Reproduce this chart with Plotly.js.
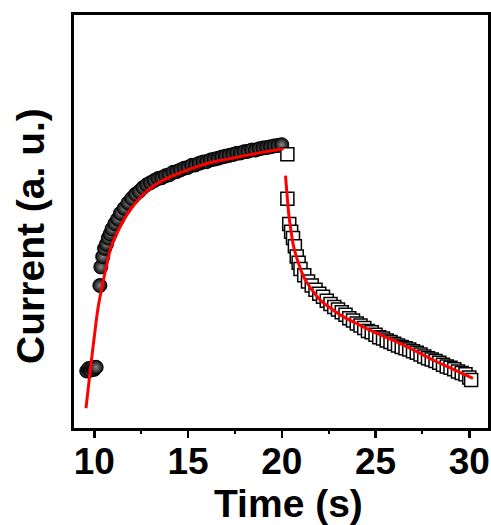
<!DOCTYPE html>
<html>
<head>
<meta charset="utf-8">
<script src="https://cdn.plot.ly/plotly-3.0.1.min.js"></script>
<style>html,body{margin:0;padding:0;background:#fff;}#chart{width:491px;height:525px;}</style>
</head>
<body>
<div id="chart"></div>
<script>
// Rise (light on) measured points
var riseTime = [9.6, 9.7, 9.8, 9.9, 10.0, 10.1, 10.3, 10.35, 10.45, 10.55, 10.65, 10.75, 10.85, 10.95, 11.1, 11.25, 11.4, 11.6, 11.8, 12.0, 12.2, 12.4, 12.6, 12.8, 13.0, 13.2, 13.4, 13.6, 13.8, 14.0, 14.2, 14.4, 14.6, 14.8, 15.0, 15.2, 15.4, 15.6, 15.8, 16.0, 16.2, 16.4, 16.6, 16.8, 17.0, 17.2, 17.4, 17.6, 17.8, 18.0, 18.2, 18.4, 18.6, 18.8, 19.0, 19.2, 19.4, 19.6, 19.8, 20.0];
var riseCurrent = [13.8, 14.4, 14.0, 14.6, 14.2, 14.7, 34.5, 39.0, 41.5, 43.5, 44.5, 46.0, 47.0, 48.2, 49.5, 50.6, 52.0, 53.2, 54.5, 55.6, 56.6, 57.3, 58.2, 58.9, 59.4, 59.9, 60.4, 60.6, 61.1, 61.3, 61.9, 62.1, 62.5, 62.9, 63.1, 63.6, 63.7, 64.1, 64.4, 64.5, 64.9, 65.1, 65.3, 65.6, 65.8, 66.0, 66.2, 66.5, 66.6, 66.9, 67.0, 67.3, 67.3, 67.6, 67.8, 67.9, 68.1, 68.3, 68.4, 68.6];
// Decay (light off) measured points
var decayTime = [20.3, 20.3, 20.4, 20.5, 20.6, 20.7, 20.8, 20.9, 21.0, 21.2, 21.4, 21.6, 21.8, 22.0, 22.2, 22.4, 22.6, 22.8, 23.0, 23.2, 23.4, 23.6, 23.8, 24.0, 24.2, 24.4, 24.6, 24.8, 25.0, 25.2, 25.4, 25.6, 25.8, 26.0, 26.2, 26.4, 26.6, 26.8, 27.0, 27.2, 27.4, 27.6, 27.8, 28.0, 28.2, 28.4, 28.6, 28.8, 29.0, 29.2, 29.4, 29.6, 29.8, 30.0, 30.1];
var decayCurrent = [66.3, 55.5, 49.4, 47.5, 46.0, 44.0, 41.5, 40.0, 38.5, 37.0, 35.5, 34.5, 33.5, 32.5, 31.8, 30.8, 30.0, 29.3, 28.7, 28.0, 27.4, 26.6, 26.0, 25.3, 24.8, 24.2, 23.5, 23.2, 22.6, 22.0, 21.7, 21.2, 20.8, 20.4, 20.0, 19.6, 19.3, 19.0, 18.6, 18.2, 17.8, 17.3, 16.9, 16.6, 16.2, 15.8, 15.3, 14.9, 14.6, 14.2, 13.7, 13.3, 13.0, 12.2, 11.6];
// Fitted curves
var riseFitTime = [9.56, 9.8, 10.0, 10.2, 10.45, 10.7, 10.9, 11.3, 11.78, 12.3, 12.84, 13.5, 14.4, 15.3, 16.2, 17.1, 17.98, 19.0, 20.1];
var riseFitCurrent = [4.8, 14.5, 22.0, 29.0, 35.0, 40.2, 43.8, 48.0, 51.9, 55.0, 57.5, 59.6, 61.5, 63.0, 64.3, 65.1, 65.9, 66.8, 67.6];
var decayFitTime = [20.2, 20.3, 20.37, 20.5, 20.64, 20.9, 21.17, 21.6, 22.07, 22.7, 23.3, 24.0, 24.7, 25.5, 26.3, 27.2, 28.1, 29.1, 30.2];
var decayFitCurrent = [61.1, 55.5, 51.9, 47.5, 43.8, 39.8, 36.6, 33.5, 30.9, 28.7, 26.9, 25.3, 23.7, 22.1, 20.5, 18.5, 16.4, 14.3, 12.0];
var xTicks = [10, 15, 20, 25, 30];
var xTitle = 'Time (s)';
var yTitle = 'Current (a. u.)';

var FONT = 'Liberation Sans, Arial, sans-serif';
var traces = [
  {x: riseTime, y: riseCurrent, type: 'scatter', mode: 'markers',
   marker: {symbol: 'circle', size: 14, color: '#0a0a0a', gradient: {type: 'radial', color: '#8a8a8a'}, line: {color: '#000', width: 1}}},
  {x: decayTime, y: decayCurrent, type: 'scatter', mode: 'markers',
   marker: {symbol: 'square', size: 13, color: '#ffffff', line: {color: '#000', width: 1.5}}},
  {x: riseFitTime, y: riseFitCurrent, type: 'scatter', mode: 'lines', line: {color: '#ff0000', width: 3, shape: 'spline'}},
  {x: decayFitTime, y: decayFitCurrent, type: 'scatter', mode: 'lines', line: {color: '#ff0000', width: 3, shape: 'spline'}}
];

var layout = {
  width: 491, height: 525,
  margin: {l: 74, r: 3, t: 15, b: 97},
  showlegend: false,
  paper_bgcolor: '#fff', plot_bgcolor: '#fff',
  font: {family: FONT, color: '#000'},
  xaxis: {
    range: [8.92, 31.0], tickvals: xTicks, ticktext: xTicks.map(String),
    ticks: 'outside', ticklen: 7, tickwidth: 2.5, tickcolor: '#000',
    minor: {dtick: 2.5, tick0: 0, ticks: 'outside', ticklen: 3, tickwidth: 2, tickcolor: '#000'},
    showline: true, linewidth: 3, linecolor: '#000', mirror: true,
    showgrid: false, zeroline: false, ticklabelstandoff: -8,
    tickfont: {size: 37, family: FONT, weight: 'bold'}
  },
  yaxis: {
    range: [0, 100], showticklabels: false, ticks: '',
    showline: true, linewidth: 3, linecolor: '#000', mirror: true,
    showgrid: false, zeroline: false
  },
  annotations: [
    {text: xTitle, xref: 'paper', yref: 'paper', x: 0.519, y: -0.182, xanchor: 'center', yanchor: 'middle',
     showarrow: false, font: {size: 39, family: FONT, weight: 'bold', color: '#000'}},
    {text: yTitle, xref: 'paper', yref: 'paper', x: -0.104, y: 0.465, xanchor: 'center', yanchor: 'middle',
     textangle: -90, showarrow: false, font: {size: 39, family: FONT, weight: 'bold', color: '#000'}}
  ]
};
Plotly.newPlot('chart', traces, layout, {displayModeBar: false, staticPlot: true});
</script>
</body>
</html>
